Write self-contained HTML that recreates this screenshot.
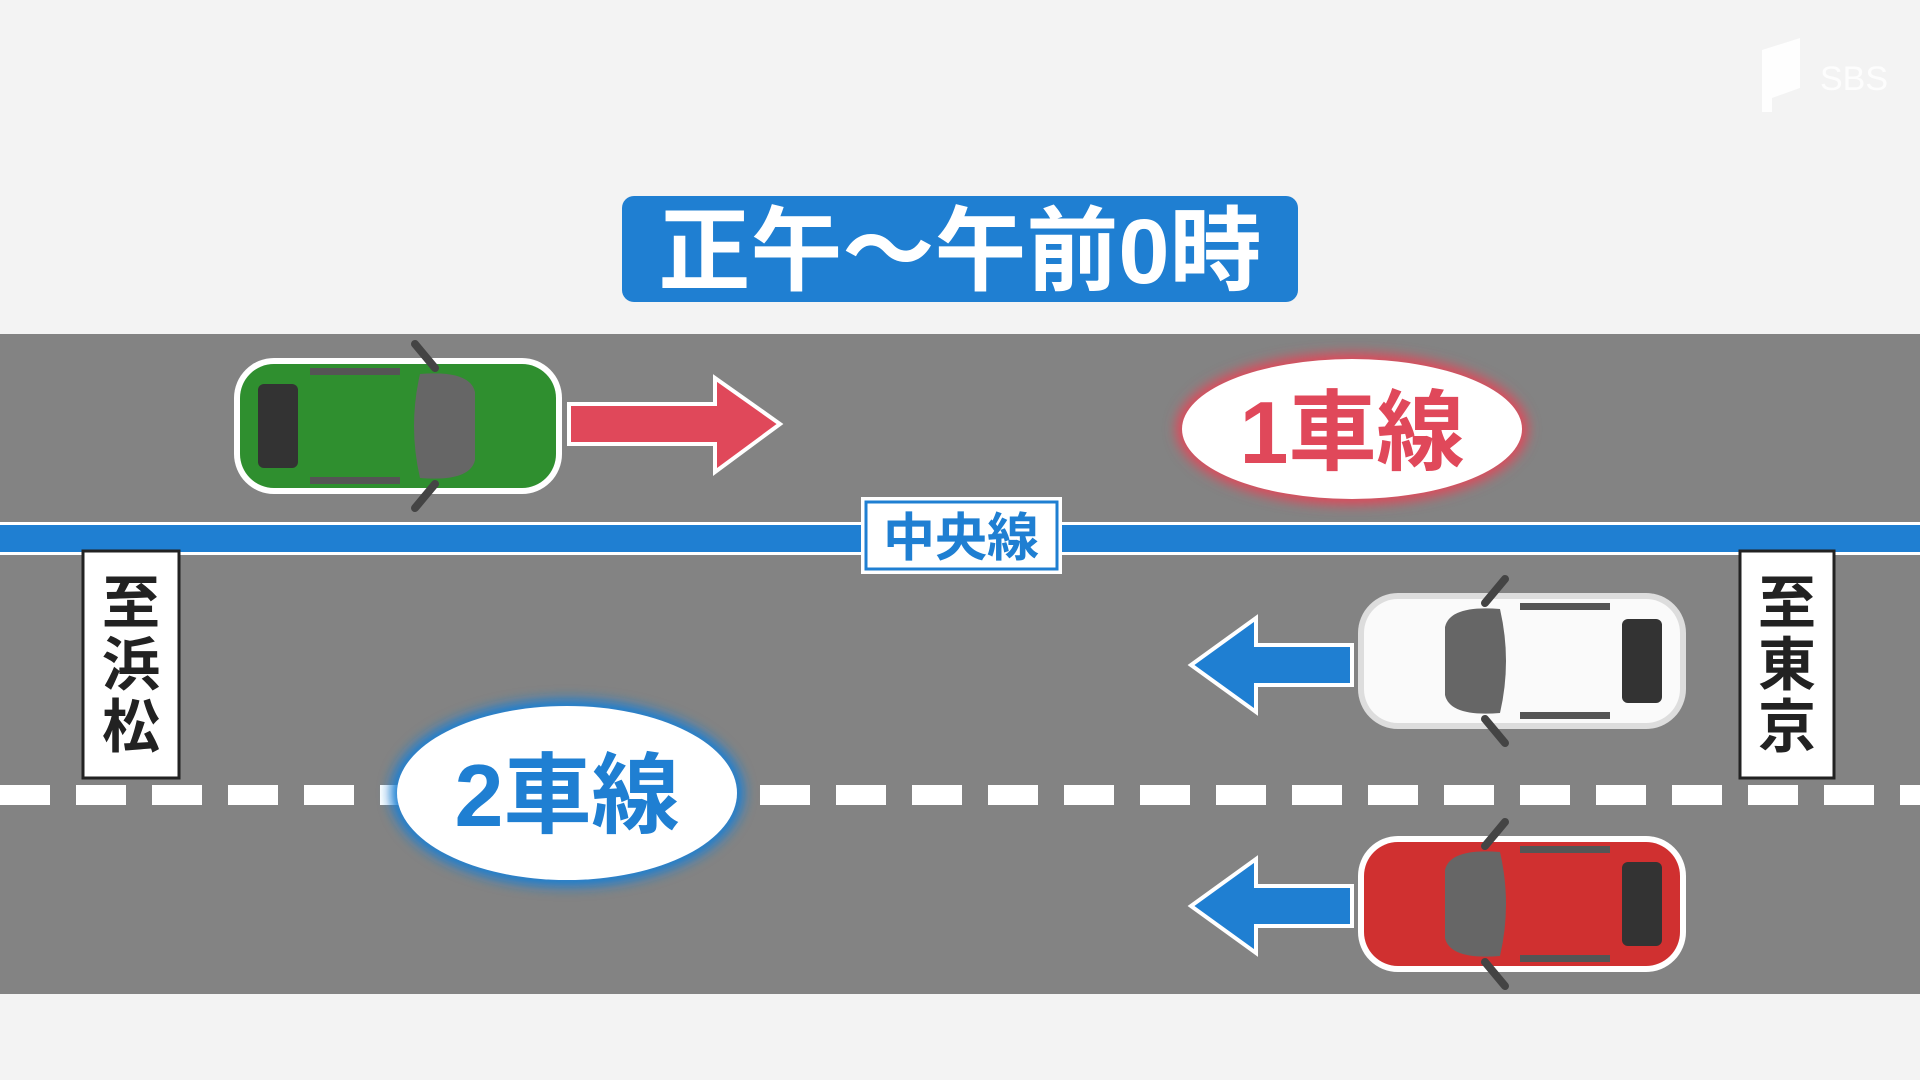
<!DOCTYPE html>
<html><head><meta charset="utf-8">
<style>
html,body{margin:0;padding:0;}
body{width:1920px;height:1080px;background:#f3f3f3;position:relative;overflow:hidden;font-family:"Liberation Sans","Noto Sans CJK JP",sans-serif;}
.abs{position:absolute;}
</style></head><body>
<svg class="abs" style="left:0;top:0" width="1920" height="1080" viewBox="0 0 1920 1080">
<defs>
<filter id="glowR" x="-20%" y="-30%" width="140%" height="160%"><feGaussianBlur stdDeviation="6"/></filter>
<g id="car">
  <!-- car pointing right, origin top-left, 336x172 -->
  <rect x="4" y="18" width="328" height="136" rx="40" fill="#fff"/>
  <rect x="10" y="24" width="316" height="124" rx="34" fill="CLR"/>
  <path d="M190 8 L205 28 M190 164 L205 144" stroke="#444" stroke-width="8" stroke-linecap="round"/>
  <rect x="28" y="44" width="42" height="84" rx="6" fill="#333"/>
  <path d="M190 36 Q230 30 240 50 L240 122 Q230 142 190 136 Z" fill="#555"/>
  <path d="M190 36 L120 36 L120 136 L190 136 Q175 86 190 36Z" fill="none"/>
  <rect x="80" y="30" width="90" height="8" fill="#444"/>
  <rect x="80" y="134" width="90" height="8" fill="#444"/>
</g>
</defs>
<!-- road -->
<rect x="0" y="334" width="1920" height="660" fill="#838383"/>
<!-- center line -->
<rect x="0" y="522" width="1920" height="33" fill="#fff"/>
<rect x="0" y="525" width="1920" height="27" fill="#1f7fd2"/>
<!-- dashed -->
<line x1="0" y1="795" x2="1920" y2="795" stroke="#fff" stroke-width="20" stroke-dasharray="50 26"/>
<!-- title -->
<rect x="622" y="196" width="676" height="106" rx="12" fill="#1f7fd2"/>
<text x="960" y="283" text-anchor="middle" font-size="92" font-weight="bold" fill="#fff" font-family="Liberation Sans,Noto Sans CJK JP,sans-serif">正午～午前0時</text>
<!-- 中央線 -->
<rect x="861" y="497" width="201" height="77" fill="#fff"/>
<rect x="866" y="502" width="191" height="67" fill="none" stroke="#1f7fd2" stroke-width="3"/>
<text x="961" y="556" text-anchor="middle" font-size="52" font-weight="bold" fill="#1f7fd2" font-family="Liberation Sans,Noto Sans CJK JP,sans-serif">中央線</text>
<!-- signs -->
<rect x="83" y="551" width="96" height="227" fill="#fff" stroke="#222" stroke-width="3"/>
<text font-size="58" font-weight="bold" fill="#222" text-anchor="middle" font-family="Liberation Sans,Noto Sans CJK JP,sans-serif"><tspan x="131" y="623">至</tspan><tspan x="131" y="685">浜</tspan><tspan x="131" y="747">松</tspan></text>
<rect x="1740" y="551" width="94" height="227" fill="#fff" stroke="#222" stroke-width="3"/>
<text font-size="58" font-weight="bold" fill="#222" text-anchor="middle" font-family="Liberation Sans,Noto Sans CJK JP,sans-serif"><tspan x="1787" y="623">至</tspan><tspan x="1787" y="685">東</tspan><tspan x="1787" y="747">京</tspan></text>
<!-- ellipses -->
<ellipse cx="1352" cy="429" rx="176" ry="76" fill="#e0485a" filter="url(#glowR)"/>
<ellipse cx="1352" cy="429" rx="170" ry="70" fill="#fff"/>
<text x="1352" y="463" text-anchor="middle" font-size="88" font-weight="bold" fill="#e0485a" font-family="Liberation Sans,Noto Sans CJK JP,sans-serif">1車線</text>
<ellipse cx="567" cy="793" rx="177" ry="94" fill="#1f7fd2" filter="url(#glowR)"/>
<ellipse cx="567" cy="793" rx="170" ry="87" fill="#fff"/>
<text x="567" y="826" text-anchor="middle" font-size="88" font-weight="bold" fill="#1f7fd2" font-family="Liberation Sans,Noto Sans CJK JP,sans-serif">2車線</text>
<!-- red arrow -->
<path d="M569 404 L715 404 L715 378 L780 424 L715 472 L715 444 L569 444 Z" fill="#e0485a" stroke="#fff" stroke-width="4"/>
<!-- blue arrows -->
<path d="M1352 645 L1256 645 L1256 618 L1191 665 L1256 712 L1256 685 L1352 685 Z" fill="#1f7fd2" stroke="#fff" stroke-width="4"/>
<path d="M1352 886 L1256 886 L1256 859 L1191 906 L1256 953 L1256 926 L1352 926 Z" fill="#1f7fd2" stroke="#fff" stroke-width="4"/>
<!-- green car -->
<g transform="translate(230,340)">
  <rect x="4" y="18" width="328" height="136" rx="40" fill="#fff"/>
  <rect x="10" y="24" width="316" height="124" rx="34" fill="#2f8f2f"/>
  <path d="M185 4 L205 28 M185 168 L205 144" stroke="#444" stroke-width="8" stroke-linecap="round"/>
  <rect x="28" y="44" width="40" height="84" rx="6" fill="#333"/>
  <path d="M190 34 Q240 30 245 52 L245 120 Q240 142 190 138 Q178 86 190 34 Z" fill="#666"/>
  <rect x="80" y="28" width="90" height="7" fill="#555"/><rect x="80" y="137" width="90" height="7" fill="#555"/>
</g>
<!-- white car (facing left) -->
<g transform="translate(1690,575) scale(-1,1)">
  <rect x="4" y="18" width="328" height="136" rx="40" fill="#ddd"/>
  <rect x="10" y="24" width="316" height="124" rx="34" fill="#fafafa"/>
  <path d="M185 4 L205 28 M185 168 L205 144" stroke="#444" stroke-width="8" stroke-linecap="round"/>
  <rect x="28" y="44" width="40" height="84" rx="6" fill="#333"/>
  <path d="M190 34 Q240 30 245 52 L245 120 Q240 142 190 138 Q178 86 190 34 Z" fill="#666"/>
  <rect x="80" y="28" width="90" height="7" fill="#555"/><rect x="80" y="137" width="90" height="7" fill="#555"/>
</g>
<!-- red car -->
<g transform="translate(1690,818) scale(-1,1)">
  <rect x="4" y="18" width="328" height="136" rx="40" fill="#fff"/>
  <rect x="10" y="24" width="316" height="124" rx="34" fill="#d03030"/>
  <path d="M185 4 L205 28 M185 168 L205 144" stroke="#444" stroke-width="8" stroke-linecap="round"/>
  <rect x="28" y="44" width="40" height="84" rx="6" fill="#333"/>
  <path d="M190 34 Q240 30 245 52 L245 120 Q240 142 190 138 Q178 86 190 34 Z" fill="#666"/>
  <rect x="80" y="28" width="90" height="7" fill="#555"/><rect x="80" y="137" width="90" height="7" fill="#555"/>
</g>
<!-- SBS logo -->
<path d="M1762 50 L1800 38 L1800 88 L1772 98 L1772 112 L1762 112 Z" fill="#fff" opacity="0.85"/>
<text x="1820" y="90" font-size="34" fill="#fff" opacity="0.85" font-family="Liberation Sans,sans-serif">SBS</text>
</svg>
</body></html>
